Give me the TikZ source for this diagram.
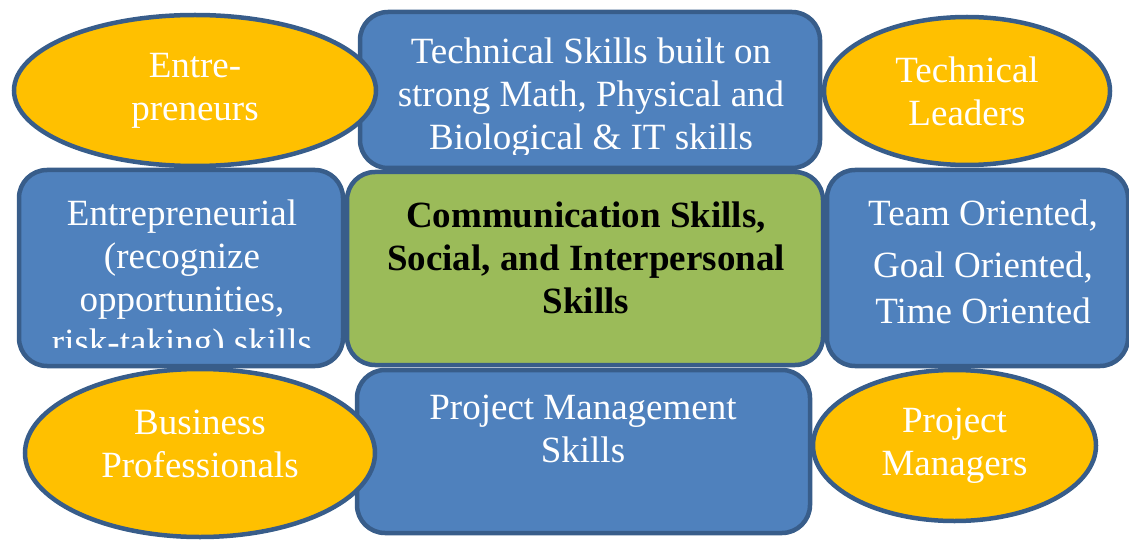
\documentclass[tikz,border=0pt]{standalone}
\usepackage{fontspec}
\setmainfont{Liberation Serif}
\usetikzlibrary{shapes.geometric}
\definecolor{boxblue}{HTML}{4F81BD}
\definecolor{edgeblue}{HTML}{385D8A}
\definecolor{coregreen}{HTML}{9BBB59}
\definecolor{roleyellow}{HTML}{FFC000}
\newcommand{\bigtext}{\fontsize{37}{43}\selectfont}
\def\skillbox{\node[draw=edgeblue,fill=boxblue,line width=4.5pt,rounded corners=28pt,inner sep=0pt]}
\def\corebox{\node[draw=edgeblue,fill=coregreen,line width=4.5pt,rounded corners=28pt,inner sep=0pt]}
\def\rolenode{\node[ellipse,draw=edgeblue,fill=roleyellow,line width=4.5pt,inner sep=0pt,text=white,align=center,font=\bigtext]}
\def\skilltext{\node[anchor=north,inner sep=0pt,text=white,align=center,font=\bigtext]}

\begin{document}
\begin{tikzpicture}[x=1pt,y=-1pt]
\useasboundingbox (0,0) rectangle (1129,540);
\skillbox (tech) [minimum width=460pt,minimum height=156pt] at (590,90) {};
\skillbox (entskill) [minimum width=324pt,minimum height=196pt] at (181,268) {};
\skillbox (team) [minimum width=301pt,minimum height=196pt] at (977.5,268) {};
\skillbox (pmskill) [minimum width=453pt,minimum height=163pt] at (583.5,451.5) {};
\corebox (comm) [minimum width=476pt,minimum height=193pt] at (585,268.5) {};
\begin{scope}
\clip (tech.north west) rectangle ([yshift=16pt]tech.south east);
\skilltext (techtxt) at (591,38) {Technical Skills built on\\strong Math, Physical and\\Biological \& IT skills};
\end{scope}
\begin{scope}
\clip (entskill.north west) rectangle ([yshift=21pt]entskill.south east);
\skilltext (entskilltxt) at (182,200) {Entrepreneurial\\(recognize\\opportunities,\\risk-taking) skills};
\end{scope}
\skilltext (teamtxt) at (983,200) {Team Oriented,\\[9pt]Goal Oriented,\\[3pt]Time Oriented};
\skilltext (pmskilltxt) at (583,395) {Project Management\\Skills};
\node[anchor=north,inner sep=0pt,align=center,font=\bigtext\bfseries] (commtxt) at (586,202) {Communication Skills,\\Social, and Interpersonal\\Skills};
\rolenode (ent) [minimum width=362pt,minimum height=151pt] at (195,90.5) {Entre-\\preneurs};
\rolenode (tl) [minimum width=286pt,minimum height=148pt] at (967,91) {Technical\\Leaders};
\rolenode (bp) [minimum width=350pt,minimum height=168pt,text depth=18pt] at (200,453) {Business\\Professionals};
\rolenode (pm) [minimum width=283pt,minimum height=151pt] at (954.5,445.5) {Project\\Managers};
\end{tikzpicture}
\end{document}
